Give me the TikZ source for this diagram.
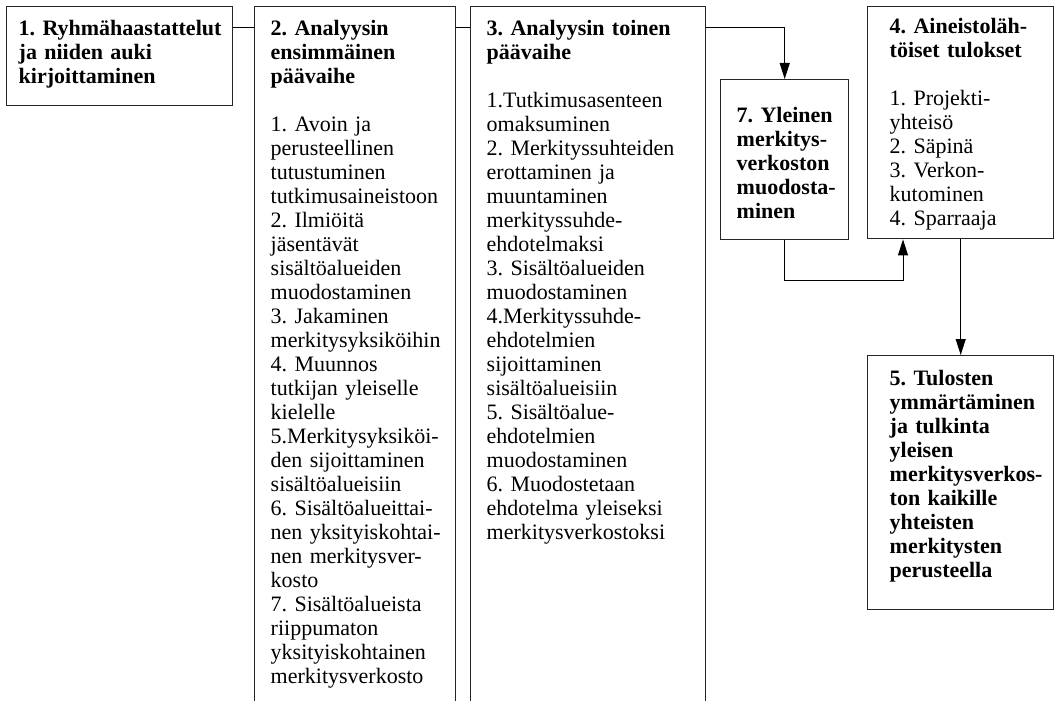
\documentclass[tikz,border=0pt]{standalone}
\usepackage{fontspec}
\setmainfont{Liberation Serif}
\usepackage{xcolor}
\usepackage{tikz}
\usetikzlibrary{arrows.meta}
\hyphenpenalty=10000
\exhyphenpenalty=10000

\tikzset{
  stage/.style={draw=black!85, line width=0.7pt, anchor=north west, align=left,
    inner xsep=8pt, inner ysep=0pt, font=\fontsize{11pt}{12pt}\selectfont\frenchspacing},
  link/.style={line width=0.5pt}
}

\begin{document}
\begin{tikzpicture}[x=0.5pt, y=-0.5pt, >={Triangle[length=8pt, width=5pt]}]
    \useasboundingbox (0,0) rectangle (1055,701);
    \clip (0,0) rectangle (1055,701);

    \node[stage, inner xsep=6pt, text width=101pt, text height=14.5pt, text depth=35pt] (b1) at (6,6) {%
      \textbf{1.~Ryhmähaastattelut}\\
      \textbf{ja niiden auki}\\
      \textbf{kirjoittaminen}};

    \node[stage, text width=84.5pt, text height=14.5pt, text depth=347.5pt] (b2) at (254,6) {%
      \textbf{2.~Analyysin}\\
      \textbf{ensimmäinen}\\
      \textbf{päävaihe}\\[12pt]
      1.~Avoin ja\\
      perusteellinen\\
      tutustuminen\\
      tutkimusaineistoon\\
      2.~Ilmiöitä\\
      jäsentävät\\
      sisältöalueiden\\
      muodostaminen\\
      3.~Jakaminen\\
      merkitysyksiköihin\\
      4.~Muunnos\\
      tutkijan~yleiselle\\
      kielelle\\
      5.Merkitysyksiköi-\\
      den~sijoittaminen\\
      sisältöalueisiin\\
      6.~Sisältöalueittai-\\
      nen~yksityiskohtai-\\
      nen~merkitysver-\\
      kosto\\
      7.~Sisältöalueista\\
      riippumaton\\
      yksityiskohtainen\\
      merkitysverkosto};

    \node[stage, text width=101.5pt, text height=14.5pt, text depth=347.5pt] (b3) at (470,6) {%
      \textbf{3.~Analyysin toinen}\\
      \textbf{päävaihe}\\[12pt]
      1.Tutkimusasenteen\\
      omaksuminen\\
      2.~Merkityssuhteiden\\
      erottaminen ja\\
      muuntaminen\\
      merkityssuhde-\\
      ehdotelmaksi\\
      3.~Sisältöalueiden\\
      muodostaminen\\
      4.Merkityssuhde-\\
      ehdotelmien\\
      sijoittaminen\\
      sisältöalueisiin\\
      5.~Sisältöalue-\\
      ehdotelmien\\
      muodostaminen\\
      6.~Muodostetaan\\
      ehdotelma~yleiseksi\\
      merkitysverkostoksi};

    \node[stage, text width=48pt, text height=21.5pt, text depth=58.5pt] (b7) at (720,79) {%
      \textbf{7.~Yleinen}\\
      \textbf{merkitys-}\\
      \textbf{verkoston}\\
      \textbf{muodosta-}\\
      \textbf{minen}};

    \node[stage, inner xsep=11pt, text width=71pt, text height=13.5pt, text depth=102.5pt] (b4) at (867,6) {%
      \textbf{4.~Aineistoläh-}\\
      \textbf{töiset~tulokset}\\[12pt]
      1.~Projekti-\\
      yhteisö\\
      2.~Säpinä\\
      3.~Verkon-\\
      kutominen\\
      4.~Sparraaja};

    \node[stage, inner xsep=11pt, text width=71pt, text height=15pt, text depth=112pt] (b5) at (867,355) {%
      \textbf{5.~Tulosten}\\
      \textbf{ymmärtäminen}\\
      \textbf{ja~tulkinta}\\
      \textbf{yleisen}\\
      \textbf{merkitysverkos-}\\
      \textbf{ton~kaikille}\\
      \textbf{yhteisten}\\
      \textbf{merkitysten}\\
      \textbf{perusteella}};

    % connectors
    \coordinate (row) at (0,28);
    \coordinate (elbow) at (903,280);
    \draw[link] (b1.east |- row) -- (b2.west |- row);
    \draw[link] (b2.east |- row) -- (b3.west |- row);
    \draw[link, ->] (b3.east |- row) -| (b7.north);
    \draw[link, ->] (b7.south) |- (elbow) -- (elbow |- b4.south);
    \draw[link, ->] (b4.south) -- (b5.north);
\end{tikzpicture}
\end{document}
